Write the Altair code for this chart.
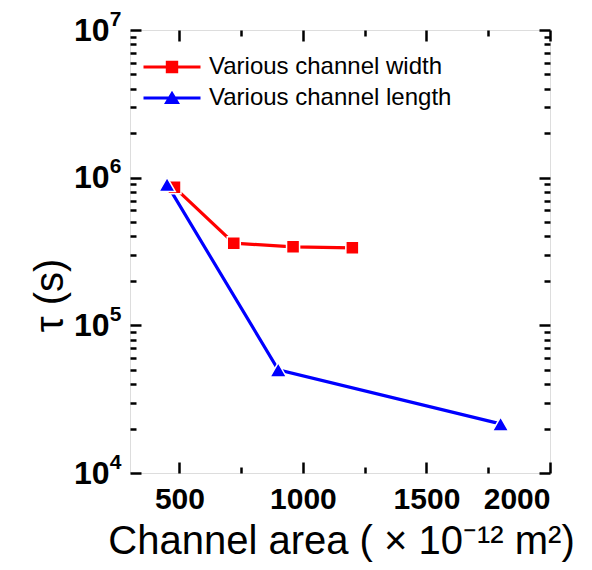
import altair as alt
import pandas as pd

# ---- data ----
series_names = ["Various channel width", "Various channel length"]
series_colors = ["#ff0000", "#0000ff"]
width_area = [480, 720, 960, 1200]
width_tau = [8.6e5, 3.6e5, 3.4e5, 3.35e5]
length_area = [450, 900, 1800]
length_tau = [9.0e5, 5.0e4, 2.15e4]

x_major = [500, 1000, 1500, 2000]
x_minor = [750, 1250, 1750]
y_major = [1e4, 1e5, 1e6, 1e7]
y_minor = [k * 10 ** e for e in (4, 5, 6) for k in range(2, 10)]

x_title = "Channel area ( \u00d7 10\u207b\u00b9\u00b2 m\u00b2)"
y_title = "\u03c4 (s)"

W, H = 420, 443
FONT = "Liberation Sans"

df = pd.DataFrame(
    {
        "area": width_area + length_area,
        "tau": width_tau + length_tau,
        "series": [series_names[0]] * len(width_area) + [series_names[1]] * len(length_area),
    }
)

x_scale = alt.Scale(domain=[300, 2000], nice=False)
y_scale = alt.Scale(type="log", domain=[1e4, 1e7], nice=False)
color_scale = alt.Scale(domain=series_names, range=series_colors)


def tick_axis(orient, offset, values, size):
    return alt.Axis(
        orient=orient, offset=offset, values=values, tickSize=size, tickWidth=2.5,
        tickColor="black", labels=False, domain=False, grid=False, title=None,
    )


def X(axis):
    return alt.X("area:Q", scale=x_scale, axis=axis)


def Y(axis):
    return alt.Y("tau:Q", scale=y_scale, axis=axis)


label_x = alt.Axis(
    orient="bottom", values=x_major, format="d", ticks=False, domain=False, grid=False,
    labelFont=FONT, labelFontWeight="bold", labelFontSize=30, labelColor="black", labelPadding=11,
    title=x_title, titleFont=FONT, titleFontSize=40, titleFontWeight="normal", titleColor="black",
    titleX=211, titleY=68, titleBaseline="middle", titleAlign="center",
)
# mantissa "10" of the log labels
label_y = alt.Axis(
    orient="left", values=y_major, ticks=False, domain=False, grid=False,
    labelExpr="'10'",
    labelFont=FONT, labelFontWeight="bold", labelFontSize=32, labelColor="black", labelPadding=21,
    title=y_title, titleFont=FONT, titleFontSize=40, titleFontWeight="normal", titleColor="black",
    titleX=-80, titleY=265, titleBaseline="middle", titleAlign="center", titleAngle=-90,
)
# exponent of the log labels
exp_y = alt.Axis(
    orient="left", values=y_major, ticks=False, domain=False, grid=False,
    labelExpr="format(round(log(datum.value)/LN10), 'd')",
    labelFont=FONT, labelFontWeight="bold", labelFontSize=21, labelColor="black", labelPadding=9,
    labelOffset=-11, title=None,
)

base = alt.Chart(df)

lines = base.mark_line(strokeWidth=3.2).encode(
    x=X(label_x), y=Y(label_y),
    color=alt.Color("series:N", scale=color_scale, legend=None),
    detail="series:N",
)

points = base.mark_point(filled=True, opacity=1, stroke="white", strokeWidth=1.5).encode(
    x=X(tick_axis("top", -H, x_major, 11)),
    y=Y(tick_axis("right", -W, y_major, 11)),
    color=alt.Color("series:N", scale=color_scale, legend=None),
    shape=alt.Shape("series:N", scale=alt.Scale(domain=series_names, range=["square", "triangle-up"]), legend=None),
    size=alt.Size("series:N", scale=alt.Scale(domain=series_names, range=[170, 270]), legend=None),
)

ticks_a = base.mark_point(opacity=0).encode(
    x=X(tick_axis("bottom", -H, x_major, 11)),
    y=Y(tick_axis("left", -W, y_major, 11)),
)
ticks_b = base.mark_point(opacity=0).encode(
    x=X(tick_axis("top", -H, x_minor, 6)),
    y=Y(tick_axis("right", -W, y_minor, 6)),
)
ticks_c = base.mark_point(opacity=0).encode(
    x=X(tick_axis("bottom", -H, x_minor, 6)),
    y=Y(tick_axis("left", -W, y_minor, 6)),
)
exp_layer = base.mark_point(opacity=0).encode(
    x=X(None),
    y=Y(exp_y),
)

sq_path = "M-2.85,-0.16H2.85V0.16H-2.85Z M-0.62,-0.62H0.62V0.62H-0.62Z"
tri_path = "M-2.85,-0.16H2.85V0.16H-2.85Z M0,-0.72L0.8,0.6L-0.8,0.6Z"

legend_def = alt.Legend(
    orient="none", legendX=30, legendY=25, title=None, padding=0,
    labelFont=FONT, labelFontSize=24, labelColor="black", labelOffset=25, labelLimit=0,
    symbolSize=400, symbolStrokeWidth=0, rowPadding=7,
)
legend_layer = base.mark_point(filled=True, size=400, opacity=1).encode(
    x=X(None), y=Y(None),
    color=alt.Color("series:N", scale=color_scale, legend=legend_def),
    shape=alt.Shape("series:N", scale=alt.Scale(domain=series_names, range=[sq_path, tri_path]), legend=legend_def),
).transform_filter("false")

chart = (
    alt.layer(lines, points, ticks_a, ticks_b, ticks_c, exp_layer, legend_layer)
    .resolve_scale(color="independent", shape="independent", size="independent")
    .resolve_axis(x="independent", y="independent")
    .properties(
        width=W, height=H,
        autosize=alt.AutoSizeParams(type="none"),
        padding={"left": 122, "top": 22, "right": 32, "bottom": 96},
    )
    .configure_view(stroke="black", strokeWidth=3)
    .configure(background="white")
)

chart.save("out.html", embed_options={"renderer": "svg", "actions": False})
